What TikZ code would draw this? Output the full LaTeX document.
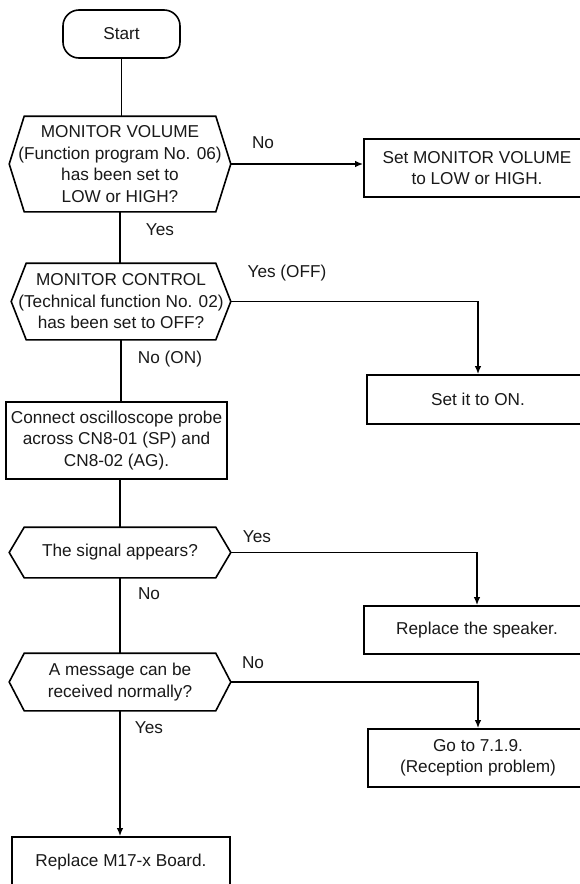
\documentclass[tikz,border=0pt]{standalone}
\usepackage{fontspec}
\setmainfont{Liberation Sans}
\usetikzlibrary{arrows.meta,calc}
\newcommand\hexshape[1]{\draw ($(#1.north west)+(15,0)$) -- ($(#1.north east)+(-15,0)$) -- (#1.east) -- ($(#1.south east)+(-15,0)$) -- ($(#1.south west)+(15,0)$) -- (#1.west) -- cycle;}
\begin{document}
\begin{tikzpicture}[x=1pt,y=-1pt,line width=1.6pt,
  font=\fontsize{17.2}{21.5}\selectfont,
  txt/.style={text=black!90},
  box/.style={draw,rectangle,align=center,inner sep=0pt,txt},
  term/.style={draw,rectangle,rounded corners=16pt,align=center,inner sep=0pt,txt},
  hexnode/.style={rectangle,align=center,inner sep=0pt,txt},
  lbl/.style={inner sep=0pt,txt},
  arr/.style={-{Latex[length=8pt,width=6.5pt]}}]
\useasboundingbox (0,0) rectangle (580,884);
\clip (0,0) rectangle (580,884);
\fill[white] (0,0) rectangle (580,884);

% nodes
\node[term,minimum width=117pt,minimum height=48pt] (start) at (121.5,34) {Start};
\node[hexnode,minimum width=220pt,minimum height=94pt] (q1) at (120,164) {MONITOR VOLUME\\(Function program No. 06)\\has been set to\\LOW or HIGH?};
\node[box,minimum width=226pt,minimum height=58pt] (b1) at (477,168) {Set MONITOR VOLUME\\to LOW or HIGH.};
\node[hexnode,minimum width=218pt,minimum height=75pt] (q2) at (121,301.5) {MONITOR CONTROL\\(Technical function No. 02)\\has been set to OFF?};
\node[box,minimum width=222pt,minimum height=49pt] (b2) at (478,399.5) {Set it to ON.};
\node[box,minimum width=221pt,minimum height=77pt] (b3) at (116.5,440.5) {Connect oscilloscope probe\\across CN8-01 (SP) and\\CN8-02 (AG).};
\node[hexnode,minimum width=220pt,minimum height=49pt] (q3) at (120,552.5) {The signal appears?};
\node[box,minimum width=226pt,minimum height=48pt] (b4) at (477,630) {Replace the speaker.};
\node[hexnode,minimum width=220pt,minimum height=56pt] (q4) at (120,682) {A message can be\\received normally?};
\node[box,minimum width=220pt,minimum height=58pt] (b5) at (478,758) {Go to 7.1.9.\\(Reception problem)};
\node[box,minimum width=218pt,minimum height=51pt] (b6) at (121,862.5) {Replace M17-x Board.};

\hexshape{q1}
\hexshape{q2}
\hexshape{q3}
\hexshape{q4}

% labels
\node[lbl] (l1) at (263,143) {No};
\node[lbl] (l2) at (160,230) {Yes};
\node[lbl] (l3) at (287,273) {Yes (OFF)};
\node[lbl] (l4) at (170,359) {No (ON)};
\node[lbl] (l5) at (257,537) {Yes};
\node[lbl] (l6) at (149,594) {No};
\node[lbl] (l7) at (253,663) {No};
\node[lbl] (l8) at (149,728) {Yes};

% connectors
\draw (start.south) -- (start.south |- q1.north);
\draw[arr] (q1.east) -- (q1.east -| b1.west);
\draw (q1.south) -- (q1.south |- q2.north);
\draw[arr] (q2.east) -| (b2.north);
\draw (q2.south) -- (q2.south |- b3.north);
\draw (q3.north |- b3.south) -- (q3.north);
\draw[arr] (q3.east) -| (b4.north);
\draw (q3.south) -- (q4.north);
\draw[arr] (q4.east) -| (b5.north);
\draw[arr] (q4.south) -- (q4.south |- b6.north);
\end{tikzpicture}
\end{document}
